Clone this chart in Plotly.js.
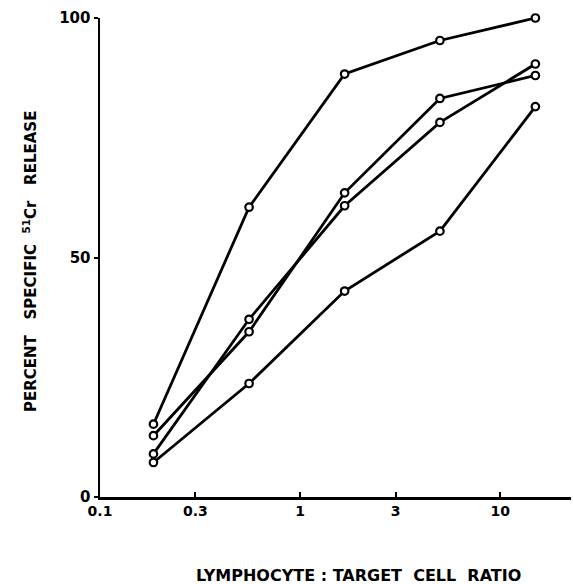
<!DOCTYPE html>
<html>
<head>
<meta charset="utf-8">
<script src="https://cdn.plot.ly/plotly-3.0.1.min.js"></script>
<style>html,body{margin:0;padding:0;background:#fff;}#chart{width:573px;height:584px;}</style>
</head>
<body>
<div id="chart"></div>
<script>
const ratios = [0.185, 0.556, 1.67, 5, 15];
const seriesA = [15.2, 60.5, 88.3, 95.3, 100];
const seriesB = [12.8, 34.5, 63.5, 83.2, 88.0];
const seriesC = [9.0, 37.1, 60.8, 78.2, 90.4];
const seriesD = [7.2, 23.7, 43.0, 55.5, 81.5];
const xTickVals = [0.1, 0.3, 1, 3, 10];
const xTickText = ['0.1', '0.3', '1', '3', '10'];
const yTickVals = [0, 50, 100];
const yTickText = ['0', '50', '100'];
const xTitle = 'LYMPHOCYTE : TARGET  CELL  RATIO';
const yTitle = 'PERCENT   SPECIFIC  <sup>51</sup>Cr   RELEASE';

const FONT = 'DejaVu Sans, Liberation Sans, sans-serif';
const mk = (y) => ({
  x: ratios, y: y, type: 'scatter', mode: 'lines+markers',
  line: {color: '#000', width: 2.8},
  marker: {symbol: 'circle', size: 7.5, color: '#fff', line: {color: '#000', width: 2.2}},
  cliponaxis: false, showlegend: false, hoverinfo: 'skip'
});
const data = [mk(seriesA), mk(seriesB), mk(seriesC), mk(seriesD)];

const layout = {
  width: 573, height: 584,
  margin: {l: 100, r: 2, t: 18, b: 87},
  paper_bgcolor: '#fff', plot_bgcolor: '#fff',
  font: {family: FONT, color: '#000', size: 13},
  xaxis: {
    type: 'log', range: [-1, Math.log10(22.6)],
    tickvals: xTickVals, ticktext: xTickText,
    ticks: 'inside', ticklen: 5, tickwidth: 2, tickcolor: '#000',
    showline: true, linecolor: '#000', linewidth: 2.5,
    showgrid: false, zeroline: false,
    tickfont: {family: FONT, size: 14, weight: 'bold'},
  },
  yaxis: {
    range: [0, 100],
    tickvals: yTickVals, ticktext: yTickText,
    ticks: 'outside', ticklen: 4, tickwidth: 2, tickcolor: '#000',
    showline: true, linecolor: '#000', linewidth: 2.5,
    showgrid: false, zeroline: false,
    tickfont: {family: FONT, size: 15, weight: 'bold'},
  },
  annotations: [
    {text: xTitle, xref: 'paper', yref: 'paper',
     x: (358 - 100) / 471, y: -(575 - 497) / 479, xanchor: 'center', yanchor: 'middle',
     showarrow: false, font: {family: FONT, size: 16, weight: 'bold'}},
    {text: yTitle, xref: 'paper', yref: 'paper',
     x: (30 - 100) / 471, y: (497 - 262) / 479, xanchor: 'center', yanchor: 'middle', textangle: -90,
     showarrow: false, font: {family: FONT, size: 15, weight: 'bold'}}
  ]
};
Plotly.newPlot('chart', data, layout, {displayModeBar: false, staticPlot: true});
</script>
</body>
</html>
